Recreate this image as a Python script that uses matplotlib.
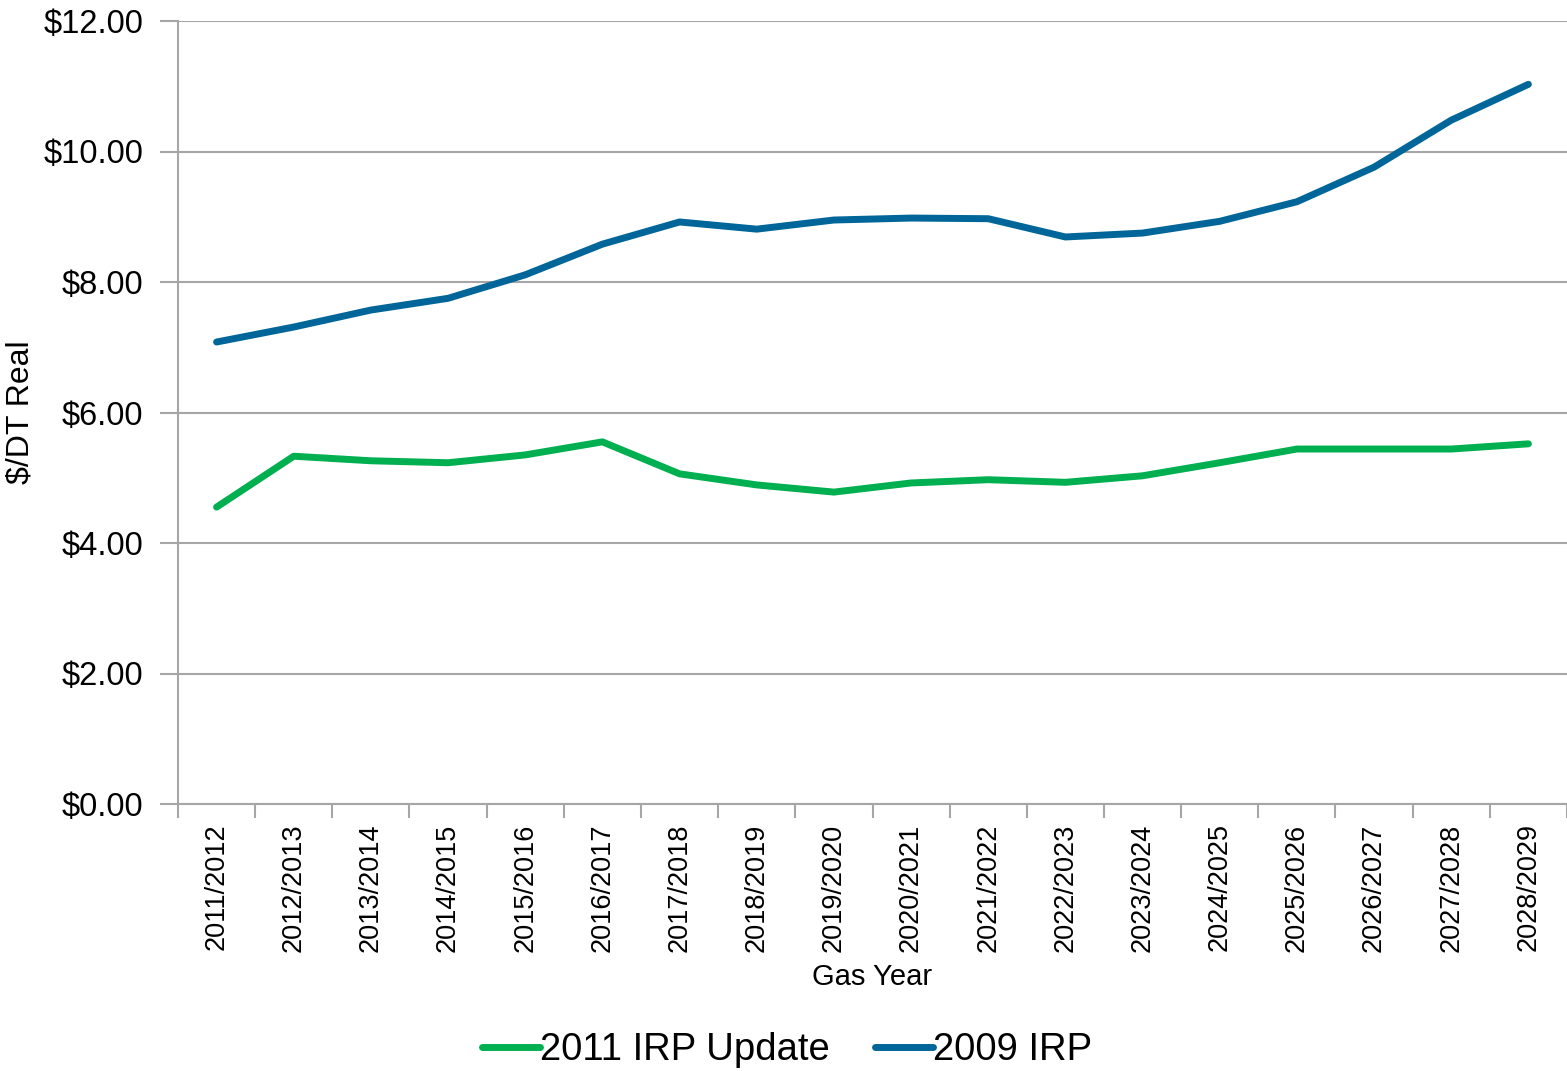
import matplotlib
matplotlib.use("Agg")
import matplotlib.pyplot as plt
import numpy as np

plt.rcParams['font.family'] = ['Liberation Sans', 'DejaVu Sans']

years = ['2011/2012', '2012/2013', '2013/2014', '2014/2015', '2015/2016', '2016/2017',
         '2017/2018', '2018/2019', '2019/2020', '2020/2021', '2021/2022', '2022/2023',
         '2023/2024', '2024/2025', '2025/2026', '2026/2027', '2027/2028', '2028/2029']
irp_2011_update = [4.55, 5.33, 5.26, 5.23, 5.35, 5.55, 5.06, 4.89, 4.78, 4.92,
                   4.97, 4.93, 5.03, 5.23, 5.44, 5.44, 5.44, 5.52]
irp_2009 = [7.08, 7.31, 7.57, 7.75, 8.11, 8.58, 8.92, 8.81, 8.95, 8.98,
            8.97, 8.69, 8.75, 8.93, 9.23, 9.76, 10.48, 11.03]
yticks = [0, 2, 4, 6, 8, 10, 12]

GREEN = '#00b050'
BLUE = '#006699'
GRID = '#a6a6a6'

fig = plt.figure(figsize=(15.67, 10.71), dpi=100)
ax = fig.add_axes([178 / 1567, 1 - 804 / 1071, 1 - 178 / 1567, (804 - 21) / 1071])

x = np.arange(len(years))
ax.plot(x, irp_2011_update, color=GREEN, lw=5, label='2011 IRP Update', solid_capstyle='round')
ax.plot(x, irp_2009, color=BLUE, lw=5, label='2009 IRP', solid_capstyle='round')

ax.set_xlim(-0.5, len(years) - 0.5)
ax.set_ylim(0, 12)
ax.set_yticks(yticks)
ax.set_yticklabels([f'${v:.2f}' for v in yticks], fontsize=23.5)
ax.set_xticks(x)
ax.set_xticklabels(years, rotation=90, fontsize=19.5)
ax.tick_params(axis='x', length=0, pad=14)
# tick marks sit between categories
ax.set_xticks(np.arange(-0.5, len(years), 1.0), minor=True)
ax.tick_params(axis='x', which='minor', length=10, color=GRID, width=1.5)
ax.tick_params(axis='y', length=13, color=GRID, width=1.5, pad=12)

ax.yaxis.grid(True, color=GRID, lw=1.5)
ax.set_axisbelow(True)
for s in ['top', 'right']:
    ax.spines[s].set_visible(False)
for s in ['left', 'bottom']:
    ax.spines[s].set_color(GRID)
    ax.spines[s].set_linewidth(1.5)

ax.set_ylabel('$/DT Real', fontsize=23, labelpad=6)
ax.set_xlabel('Gas Year', fontsize=21, labelpad=8)

fig.legend(loc='center', bbox_to_anchor=(787 / 1567, 1 - 1050 / 1071), ncol=2,
           frameon=False, fontsize=27.5, handlelength=1.5, handletextpad=0.0,
           columnspacing=1.2)

fig.savefig('out.png', dpi=100)
